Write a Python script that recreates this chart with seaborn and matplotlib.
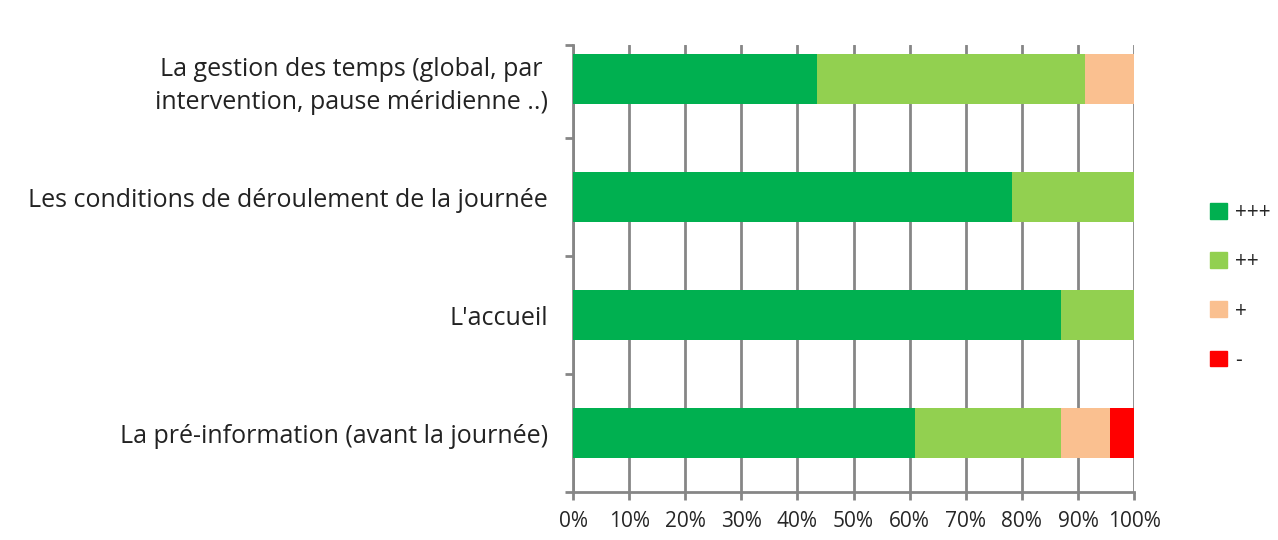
import numpy as np
import pandas as pd
import matplotlib
matplotlib.use("Agg")
import matplotlib.pyplot as plt
import seaborn as sns
from matplotlib.patches import Patch

# data (share of answers, %)
questions = [
    "La gestion des temps (global, par\nintervention, pause méridienne ..)",
    "Les conditions de déroulement de la journée",
    "L'accueil",
    "La pré-information (avant la journée)",
]
levels = ["+++", "++", "+", "-"]
very_good = [43.5, 78.3, 87.0, 60.9]
good = [47.8, 21.7, 13.0, 26.1]
fair = [8.7, 0.0, 0.0, 8.7]
bad = [0.0, 0.0, 0.0, 4.3]
colors = ["#00B050", "#92D050", "#FAC090", "#FF0000"]
xticks = [0, 10, 20, 30, 40, 50, 60, 70, 80, 90, 100]

sns.set_style("white")
plt.rcParams["font.family"] = ["Open Sans", "DejaVu Sans"]

df = pd.DataFrame({"question": questions, "+++": very_good, "++": good, "+": fair, "-": bad})
cum = df[levels].cumsum(axis=1)

fig = plt.figure(figsize=(12.78, 5.4), dpi=100)
ax = fig.add_axes([0.4484, 0.0889, 0.4390, 0.8278])

# stacked bars: draw cumulative totals back to front
for lvl, col in reversed(list(zip(levels, colors))):
    sns.barplot(x=cum[lvl], y=df["question"], color=col, width=0.42,
                orient="h", ax=ax, saturation=1, zorder=3, linewidth=0)

grey = "#868686"
ax.set_xlim(0, 100)
ax.set_ylim(3.5, -0.29)
ax.set_xticks(xticks)
ax.set_xticklabels([f"{t}%" for t in xticks], fontsize=15)
ax.set_xlabel("")
ax.set_ylabel("")
ax.tick_params(axis="y", which="major", left=False, length=0, labelsize=18, pad=18)
for lab in ax.get_yticklabels():
    lab.set_multialignment("center")
    lab.set_linespacing(1.4)
    lab.set_color("#222222")
ax.set_yticks([0.5, 1.5, 2.5, 3.5, -0.29], minor=True)
ax.tick_params(axis="y", which="minor", left=True, direction="out",
               length=6, width=2, color=grey)
ax.tick_params(axis="x", bottom=True, direction="out", length=6, width=2,
               color=grey, pad=8)
ax.set_axisbelow(True)
ax.xaxis.grid(True, color=grey, lw=2)
for s in ["top", "right"]:
    ax.spines[s].set_visible(False)
for s in ["left", "bottom"]:
    ax.spines[s].set_color(grey)
    ax.spines[s].set_linewidth(2)

handles = [Patch(facecolor=c, edgecolor=c) for c in colors]
fig.legend(handles, levels, loc="upper left", bbox_to_anchor=(0.932, 0.66),
           frameon=False, fontsize=15, handlelength=0.8, handleheight=0.8,
           handletextpad=0.4, labelspacing=1.35)

fig.savefig("out.png", dpi=100)
